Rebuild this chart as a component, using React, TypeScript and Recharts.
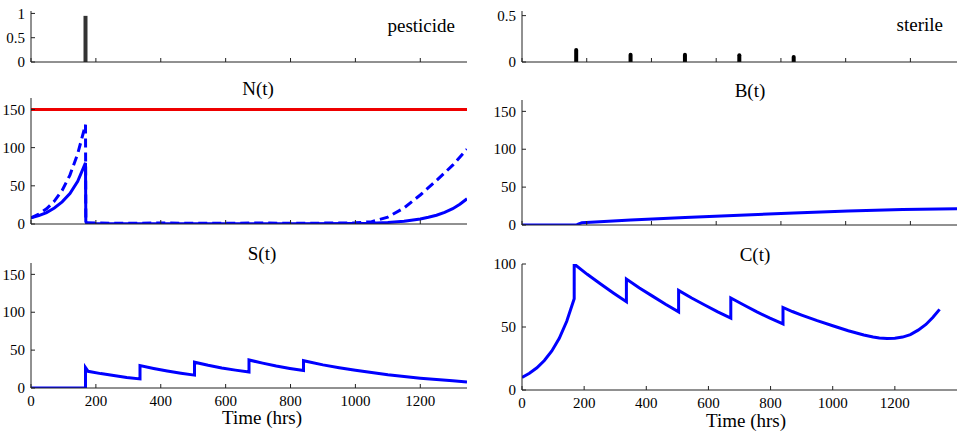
import React from "react";
import { ComposedChart, Line, Bar, XAxis, YAxis } from "recharts";

const FONT = '"Liberation Serif", "Times New Roman", serif';
const BLUE = "#0000ff";
const AXIS = "#222";

// hours on every time axis
const timeTicks = [0, 200, 400, 600, 800, 1000, 1200];
const popTicks = [0, 50, 100, 150];
const doseTicks = [0, 0.5, 1];
const sterileTicks = [0, 0.5];
const cTicks = [0, 50, 100];

// control inputs
const pesticideDoses = [{ t: 168, dose: 0.95 }];
const sterileReleases = [
  { t: 168, amount: 0.15 },
  { t: 336, amount: 0.1 },
  { t: 504, amount: 0.1 },
  { t: 672, amount: 0.095 },
  { t: 840, amount: 0.075 },
];

// N(t): solid, dashed and carrying capacity
const nSolid = [
  { t: 0, n: 8 }, { t: 24, n: 11 }, { t: 48, n: 15 }, { t: 72, n: 21 },
  { t: 96, n: 29 }, { t: 120, n: 40 }, { t: 144, n: 56 }, { t: 168, n: 80 },
  { t: 169, n: 3 }, { t: 172, n: 0.8 }, { t: 200, n: 0.5 }, { t: 400, n: 0.4 },
  { t: 600, n: 0.3 }, { t: 800, n: 0.3 }, { t: 1000, n: 0.5 }, { t: 1050, n: 1 },
  { t: 1100, n: 2 }, { t: 1150, n: 3.5 }, { t: 1200, n: 6.5 }, { t: 1225, n: 8.8 },
  { t: 1250, n: 11.5 }, { t: 1275, n: 15.3 }, { t: 1300, n: 20 }, { t: 1322, n: 26 },
  { t: 1344, n: 33 },
];
const nDashed = [
  { t: 0, n: 8 }, { t: 24, n: 13 }, { t: 48, n: 20 }, { t: 72, n: 30 },
  { t: 96, n: 44 }, { t: 120, n: 64 }, { t: 144, n: 92 }, { t: 168, n: 130 },
  { t: 169, n: 4 }, { t: 172, n: 1.5 }, { t: 250, n: 1 }, { t: 400, n: 1.2 },
  { t: 550, n: 1 }, { t: 700, n: 1.2 }, { t: 850, n: 1 }, { t: 1000, n: 1.5 },
  { t: 1050, n: 3 }, { t: 1100, n: 9 }, { t: 1150, n: 21 }, { t: 1200, n: 38 },
  { t: 1250, n: 57 }, { t: 1300, n: 77 }, { t: 1344, n: 98 },
];
const capacity = [{ t: 0, k: 150 }, { t: 1344, k: 150 }];

const bValues = [
  { t: 0, b: 0 }, { t: 168, b: 0 }, { t: 172, b: 1 }, { t: 185, b: 3 },
  { t: 336, b: 6.5 }, { t: 504, b: 10 }, { t: 672, b: 13 }, { t: 840, b: 16 },
  { t: 1008, b: 18.5 }, { t: 1176, b: 20.5 }, { t: 1344, b: 21.5 },
];

const sValues = [
  { t: 0, s: 0 }, { t: 168, s: 0 }, { t: 168, s: 27 }, { t: 176, s: 22 },
  { t: 215, s: 19 }, { t: 255, s: 16.5 }, { t: 295, s: 14 }, { t: 336, s: 12 },
  { t: 336, s: 29.5 }, { t: 378, s: 25.8 }, { t: 420, s: 22.5 }, { t: 462, s: 19.6 },
  { t: 504, s: 17 }, { t: 504, s: 34 }, { t: 546, s: 30 }, { t: 588, s: 26.5 },
  { t: 630, s: 23.6 }, { t: 672, s: 21 }, { t: 672, s: 37 }, { t: 714, s: 32.8 },
  { t: 756, s: 29 }, { t: 798, s: 25.8 }, { t: 840, s: 23 }, { t: 840, s: 36 },
  { t: 900, s: 30.5 }, { t: 950, s: 26.8 }, { t: 1000, s: 23.5 }, { t: 1050, s: 20.4 },
  { t: 1100, s: 17.5 }, { t: 1150, s: 15.1 }, { t: 1200, s: 13 }, { t: 1250, s: 11.1 },
  { t: 1300, s: 9.5 }, { t: 1344, s: 8 },
];

const cValues = [
  { t: 0, c: 10 }, { t: 24, c: 13.3 }, { t: 48, c: 17.6 }, { t: 72, c: 23.4 },
  { t: 96, c: 31 }, { t: 120, c: 41 }, { t: 144, c: 54.5 }, { t: 168, c: 72.5 },
  { t: 168, c: 100 }, { t: 210, c: 91.8 }, { t: 252, c: 84.3 }, { t: 294, c: 77 },
  { t: 336, c: 70 }, { t: 336, c: 88 }, { t: 378, c: 81 }, { t: 420, c: 74.5 },
  { t: 462, c: 68 }, { t: 504, c: 62 }, { t: 504, c: 79 }, { t: 546, c: 73 },
  { t: 588, c: 67.5 }, { t: 630, c: 62 }, { t: 672, c: 57 }, { t: 672, c: 73 },
  { t: 714, c: 67.5 }, { t: 756, c: 62 }, { t: 798, c: 57 }, { t: 840, c: 52.5 },
  { t: 840, c: 65.5 }, { t: 870, c: 62.3 }, { t: 900, c: 59.5 }, { t: 950, c: 55 },
  { t: 1000, c: 51 }, { t: 1050, c: 47 }, { t: 1100, c: 43.6 }, { t: 1130, c: 42 },
  { t: 1150, c: 41.2 }, { t: 1175, c: 40.8 }, { t: 1200, c: 41 }, { t: 1225, c: 42 },
  { t: 1250, c: 44 }, { t: 1275, c: 47.5 }, { t: 1300, c: 52 }, { t: 1322, c: 57.5 },
  { t: 1344, c: 64 },
];

const TICK = 4;
const textProps = { fill: "#000", fontSize: 15, fontFamily: FONT };

// MATLAB-style ticks: short marks pointing into the box, labels outside
function BottomTick(props: any) {
  const { x, y, payload, showLabel } = props;
  return (
    <g>
      <line x1={x} y1={y} x2={x} y2={y - TICK} stroke={AXIS} />
      {showLabel && (
        <text x={x} y={y + 7} dy="0.71em" textAnchor="middle" {...textProps}>
          {payload.value}
        </text>
      )}
    </g>
  );
}

function TopTick(props: any) {
  const { x, y } = props;
  return <line x1={x} y1={y} x2={x} y2={y + TICK} stroke={AXIS} />;
}

function LeftTick(props: any) {
  const { x, y, payload } = props;
  return (
    <g>
      <line x1={x} y1={y} x2={x + TICK} y2={y} stroke={AXIS} />
      <text x={x - 6} y={y} dy="0.35em" textAnchor="end" {...textProps}>
        {payload.value}
      </text>
    </g>
  );
}

function RightTick(props: any) {
  const { x, y } = props;
  return <line x1={x} y1={y} x2={x - TICK} y2={y} stroke={AXIS} />;
}

const YW = 40;
const PAD_T = 10;
const PAD_R = 6;

type PanelProps = {
  left: number;
  top: number;
  width: number;
  height: number;
  xMax: number;
  yMax: number;
  yTicks: number[];
  xLabels?: boolean;
  data?: any[];
  children: React.ReactNode;
};

function Panel({ left, top, width, height, xMax, yMax, yTicks, xLabels, data, children }: PanelProps) {
  const xh = xLabels ? 28 : 10;
  return (
    <div style={{ position: "absolute", left: left - YW, top: top - PAD_T }}>
      <ComposedChart
        width={YW + width + PAD_R}
        height={PAD_T + height + xh}
        data={data}
        margin={{ top: PAD_T, right: PAD_R, bottom: 0, left: 0 }}
        style={{ fontFamily: FONT }}
      >
        <XAxis
          type="number"
          dataKey="t"
          domain={[0, xMax]}
          ticks={timeTicks}
          interval={0}
          allowDataOverflow
          height={xh}
          stroke={AXIS}
          tickLine={false}
          tickSize={0}
          tickMargin={0}
          tick={<BottomTick showLabel={!!xLabels} />}
        />
        <XAxis
          xAxisId="top"
          orientation="top"
          type="number"
          dataKey="t"
          domain={[0, xMax]}
          ticks={timeTicks}
          interval={0}
          height={0}
          stroke={AXIS}
          tickLine={false}
          tickSize={0}
          tickMargin={0}
          tick={<TopTick />}
        />
        <YAxis
          type="number"
          domain={[0, yMax]}
          ticks={yTicks}
          interval={0}
          allowDataOverflow
          width={YW}
          stroke={AXIS}
          tickLine={false}
          tickSize={0}
          tickMargin={0}
          tick={<LeftTick />}
        />
        <YAxis
          yAxisId="right"
          orientation="right"
          type="number"
          domain={[0, yMax]}
          ticks={yTicks}
          interval={0}
          width={0}
          stroke={AXIS}
          tickLine={false}
          tickSize={0}
          tickMargin={0}
          tick={<RightTick />}
        />
        {children}
      </ComposedChart>
    </div>
  );
}

function Caption({ x, y, align = "center", children }: { x: number; y: number; align?: "center" | "right"; children: React.ReactNode }) {
  const w = 200;
  const left = align === "center" ? x - w / 2 : x - w;
  return (
    <div
      style={{
        position: "absolute",
        left,
        top: y,
        width: w,
        textAlign: align,
        fontFamily: FONT,
        fontSize: 19,
        lineHeight: "19px",
        color: "#000",
        whiteSpace: "nowrap",
      }}
    >
      {children}
    </div>
  );
}

export default function App() {
  return (
    <div style={{ position: "absolute", left: 0, top: 0, width: 964, height: 436, background: "#fff" }}>
      {/* pesticide input */}
      <Panel left={31} top={11} width={436} height={51} xMax={1344} yMax={1.05} yTicks={doseTicks} data={pesticideDoses}>
        <Bar dataKey="dose" fill="#333" barSize={4} isAnimationActive={false} />
      </Panel>
      <Caption x={455} y={16} align="right">pesticide</Caption>

      {/* sterile release input */}
      <Panel left={522} top={11} width={435} height={51} xMax={1344} yMax={0.55} yTicks={sterileTicks} data={sterileReleases}>
        <Bar dataKey="amount" fill="#000" barSize={4} radius={[2, 2, 0, 0]} isAnimationActive={false} />
      </Panel>
      <Caption x={943} y={15} align="right">sterile</Caption>

      {/* N(t) */}
      <Panel left={31} top={98} width={436} height={126} xMax={1344} yMax={165} yTicks={popTicks}>
        <Line data={capacity} dataKey="k" stroke="#ee0000" strokeWidth={3} dot={false} isAnimationActive={false} />
        <Line data={nDashed} dataKey="n" stroke={BLUE} strokeWidth={3} strokeDasharray="9 5" dot={false} isAnimationActive={false} />
        <Line data={nSolid} dataKey="n" stroke={BLUE} strokeWidth={3} dot={false} isAnimationActive={false} />
      </Panel>
      <Caption x={258} y={79}>N(t)</Caption>

      {/* B(t) */}
      <Panel left={522} top={100} width={435} height={125} xMax={1344} yMax={165} yTicks={popTicks}>
        <Line data={bValues} dataKey="b" stroke={BLUE} strokeWidth={3} dot={false} isAnimationActive={false} />
      </Panel>
      <Caption x={750} y={81}>B(t)</Caption>

      {/* S(t) */}
      <Panel left={31} top={263} width={436} height={125} xMax={1344} yMax={165} yTicks={popTicks} xLabels>
        <Line data={sValues} dataKey="s" stroke={BLUE} strokeWidth={3} dot={false} isAnimationActive={false} />
      </Panel>
      <Caption x={262} y={244}>S(t)</Caption>
      <Caption x={262} y={408}>Time (hrs)</Caption>

      {/* C(t) */}
      <Panel left={522} top={264} width={435} height={126} xMax={1400} yMax={100} yTicks={cTicks} xLabels>
        <Line data={cValues} dataKey="c" stroke={BLUE} strokeWidth={3} dot={false} isAnimationActive={false} />
      </Panel>
      <Caption x={755} y={245}>C(t)</Caption>
      <Caption x={746} y={411}>Time (hrs)</Caption>
    </div>
  );
}
